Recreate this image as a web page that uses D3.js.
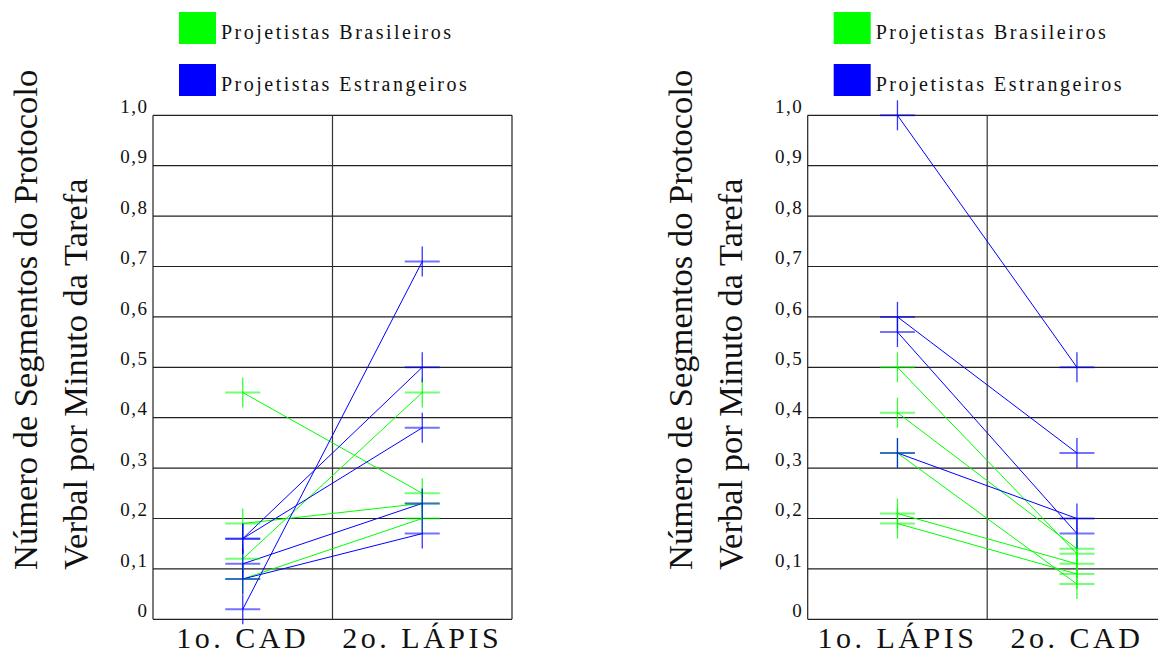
<!DOCTYPE html>
<html>
<head>
<meta charset="utf-8">
<script src="https://cdn.jsdelivr.net/npm/d3@7"></script>
<style>
  body { margin: 0; background: #fff; }
  svg text { font-family: "Liberation Serif", "Times New Roman", serif; }
</style>
</head>
<body>
<div id="chart"></div>
<script>
// Datos: cada par es [primera tarefa, segunda tarefa]
const categoriasEsq = ["1o. CAD", "2o. LÁPIS"];
const categoriasDir = ["1o. LÁPIS", "2o. CAD"];

const brasileirosEsq = [[0.45, 0.25], [0.19, 0.23], [0.12, 0.45], [0.08, 0.20]];
const estrangeirosEsq = [[0.02, 0.71], [0.16, 0.50], [0.16, 0.38], [0.11, 0.23], [0.08, 0.17]];

const brasileirosDir = [[0.50, 0.13], [0.41, 0.14], [0.33, 0.07], [0.21, 0.11], [0.19, 0.09]];
const estrangeirosDir = [[1.0, 0.50], [0.60, 0.33], [0.57, 0.17], [0.33, 0.20]];

const yTicks = [0, 0.1, 0.2, 0.3, 0.4, 0.5, 0.6, 0.7, 0.8, 0.9, 1.0];
const yTickLabels = ["0", "0,1", "0,2", "0,3", "0,4", "0,5", "0,6", "0,7", "0,8", "0,9", "1,0"];

const legenda = ["Projetistas Brasileiros", "Projetistas Estrangeiros"];
const cores = ["#00ff00", "#0000ff"];
const tituloY = ["Número de Segmentos do Protocolo", "Verbal por Minuto da Tarefa"];

// Dimensiones
const width = 1158;
const height = 654;
const plotW = 359;
const plotTop = 115.3;
const plotBottom = 619.3;
const fonte = "Liberation Serif, Times New Roman, serif";

const svg = d3.select("#chart")
    .append("svg")
    .attr("width", width)
    .attr("height", height)
    .style("display", "block");

const y = d3.scaleLinear().domain([0, 1]).range([plotBottom, plotTop]);

function painel(offsetX, categorias, brasileiros, estrangeiros) {
    const left = 153 + offsetX;
    const g = svg.append("g").attr("font-family", fonte);

    const x = d3.scalePoint()
        .domain(categorias)
        .range([left, left + plotW])
        .padding(0.5);

    // Leyenda
    const leg = g.append("g")
        .selectAll("g")
        .data(legenda)
        .enter()
        .append("g")
        .attr("transform", (d, i) => `translate(${left + 26},${12 + i * 52})`);
    leg.append("rect")
        .attr("width", 37)
        .attr("height", 32)
        .attr("fill", (d, i) => cores[i]);
    leg.append("text")
        .attr("x", 42)
        .attr("y", 26.5)
        .attr("font-family", fonte)
        .attr("font-size", 20)
        .attr("letter-spacing", "2.5px")
        .attr("fill", "#111")
        .text(d => d);

    // Lineas de la rejilla
    g.append("g")
        .selectAll("line")
        .data(yTicks)
        .enter()
        .append("line")
        .attr("x1", left)
        .attr("x2", left + plotW)
        .attr("y1", d => y(d))
        .attr("y2", d => y(d))
        .attr("stroke", "#222")
        .attr("stroke-width", 1.2);

    // Marco
    g.append("line")
        .attr("x1", left).attr("x2", left)
        .attr("y1", plotTop).attr("y2", plotBottom)
        .attr("stroke", "#222").attr("stroke-width", 1.2);
    g.append("line")
        .attr("x1", left + plotW).attr("x2", left + plotW)
        .attr("y1", plotTop).attr("y2", plotBottom)
        .attr("stroke", "#222").attr("stroke-width", 1.2);
    g.append("line")
        .attr("x1", left + plotW / 2).attr("x2", left + plotW / 2)
        .attr("y1", plotTop).attr("y2", plotBottom)
        .attr("stroke", "#333").attr("stroke-width", 1.2);

    // Eje Y (solo etiquetas)
    const eixo = g.append("g")
        .attr("transform", `translate(${left},0)`)
        .call(d3.axisLeft(y)
            .tickValues(yTicks)
            .tickSize(0)
            .tickPadding(4.5)
            .tickFormat((d, i) => yTickLabels[i]));
    eixo.attr("font-family", fonte).attr("font-size", 19);
    eixo.select(".domain").remove();
    eixo.selectAll("text")
        .attr("font-family", fonte)
        .attr("font-size", 19)
        .attr("letter-spacing", "1.5px")
        .attr("fill", "#111")
        .attr("dy", "-0.15em");

    // Categorias
    g.append("g")
        .selectAll("text")
        .data(categorias)
        .enter()
        .append("text")
        .attr("x", d => x(d))
        .attr("y", 648)
        .attr("text-anchor", "middle")
        .attr("font-family", fonte)
        .attr("font-size", 30)
        .attr("letter-spacing", "3.5px")
        .attr("fill", "#111")
        .text(d => d);

    // Titulo del eje Y
    g.append("g")
        .selectAll("text")
        .data(tituloY)
        .enter()
        .append("text")
        .attr("transform", (d, i) => `translate(${left - 116 + i * 50},570) rotate(-90)`)
        .attr("font-family", fonte)
        .attr("font-size", 34.5)
        .attr("fill", "#111")
        .text(d => d);

    // Series
    const series = [brasileiros, estrangeiros];
    series.forEach((dados, s) => {
        g.append("g")
            .selectAll("line")
            .data(dados)
            .enter()
            .append("line")
            .attr("x1", x(categorias[0]))
            .attr("x2", x(categorias[1]))
            .attr("y1", d => y(d[0]))
            .attr("y2", d => y(d[1]))
            .attr("stroke", cores[s])
            .attr("stroke-width", 1);
    });

    series.forEach((dados, s) => {
        const pontos = [];
        dados.forEach(d => {
            pontos.push({cat: categorias[0], v: d[0]});
            pontos.push({cat: categorias[1], v: d[1]});
        });
        const m = g.append("g")
            .selectAll("g")
            .data(pontos)
            .enter()
            .append("g")
            .attr("transform", d => `translate(${x(d.cat)},${y(d.v)})`);
        m.append("line")
            .attr("x1", -17.5).attr("x2", 17.5)
            .attr("stroke", cores[s])
            .attr("stroke-opacity", 0.55)
            .attr("stroke-width", 2);
        m.append("line")
            .attr("y1", -15).attr("y2", 15)
            .attr("stroke", cores[s])
            .attr("stroke-opacity", 0.8)
            .attr("stroke-width", 1.3);
    });
}

painel(0, categoriasEsq, brasileirosEsq, estrangeirosEsq);
painel(654.7, categoriasDir, brasileirosDir, estrangeirosDir);
</script>
</body>
</html>
